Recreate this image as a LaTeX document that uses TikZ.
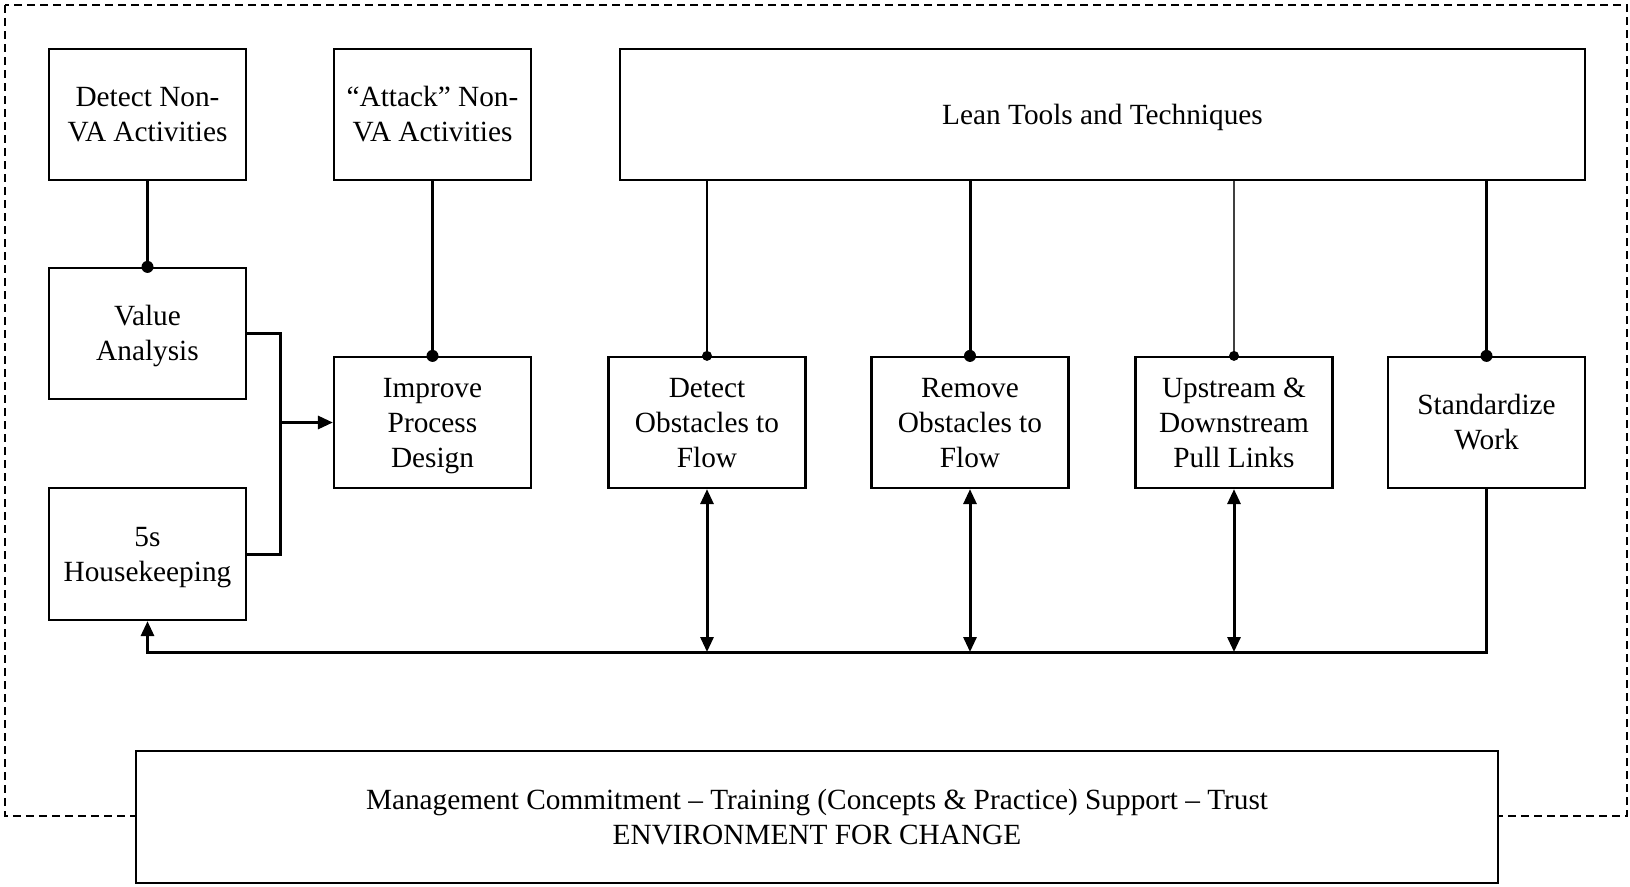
\documentclass[tikz,border=0pt]{standalone}
\usepackage{fontspec}
\setmainfont{Liberation Serif}
\usetikzlibrary{arrows.meta}
\newcommand{\fs}{\rule[-6.5pt]{0pt}{32.5pt}}
\begin{document}
\begin{tikzpicture}[x=1pt,y=-1pt,
  box/.style={draw, line width=2.2pt, fill=white, inner sep=0pt, align=center,
    minimum width=197pt, minimum height=131pt,
    font=\fontsize{29.3}{35}\selectfont,
    execute at end node=\fs},
  thick conn/.style={line width=3pt},
  thin conn/.style={line width=1.1pt},
  flow/.style={line width=3pt},
  tip/.style={-{Triangle[length=15pt,width=13pt]}},
  both/.style={{Triangle[length=15pt,width=13pt]}-{Triangle[length=15pt,width=13pt]}},
  border/.style={line width=2pt, dash pattern=on 8pt off 5pt}
]
\useasboundingbox (0,0) rectangle (1630,886);
\draw[border] (5,5) rectangle (1627,816);

\node[box] (dnv) at (147.5,114.5) {\fs Detect Non-\\VA Activities};
\node[box] (att) at (432.5,114.5) {\fs “Attack” Non-\\VA Activities};
\node[box, minimum width=965pt] (lean) at (1102.5,114.5) {\fs Lean Tools and Techniques};
\node[box] (va) at (147.5,333.5) {\fs Value\\Analysis};
\node[box, minimum height=132pt] (hk) at (147.5,554) {\fs 5s\\Housekeeping};
\node[box] (imp) at (432.5,422.5) {\fs Improve\\Process\\Design};
\node[box] (det) at (707,422.5) {\fs Detect\\Obstacles to\\Flow};
\node[box] (rem) at (970,422.5) {\fs Remove\\Obstacles to\\Flow};
\node[box] (ups) at (1234,422.5) {\fs Upstream \&\\Downstream\\Pull Links};
\node[box] (std) at (1486.5,422.5) {\fs Standardize\\Work};
\node[box, minimum width=1362pt, minimum height=132pt] (env) at (817,817)
  {\fs Management Commitment – Training (Concepts \& Practice) Support – Trust\\ENVIRONMENT FOR CHANGE};

\coordinate (bx) at (280,422.5);
\coordinate (bl) at (147.5,652);
\coordinate (br) at (1486.5,652);

% top-down connectors with dots
\draw[thick conn] (dnv.south) -- (va.north);
\fill (va.north) circle (6pt);
\draw[thick conn] (att.south) -- (imp.north);
\fill (imp.north) circle (6pt);
\draw[thin conn] (lean.south -| det.north) -- (det.north);
\fill (det.north) circle (5pt);
\draw[thick conn] (lean.south -| rem.north) -- (rem.north);
\fill (rem.north) circle (6pt);
\draw[thin conn, black!75] (lean.south -| ups.north) -- (ups.north);
\fill (ups.north) circle (5pt);
\draw[thick conn] (lean.south -| std.north) -- (std.north);
\fill (std.north) circle (6pt);

% bracket into Improve Process Design
\draw[flow] (va.east) -| (bx |- hk.east) -- (hk.east);
\draw[flow, tip] (bx) -- (imp.west);

% feedback line
\draw[flow, tip] (std.south) -- (br) -- (bl) -- (hk.south);
\draw[flow, both] (det.south) -- (det.south |- bl);
\draw[flow, both] (rem.south) -- (rem.south |- bl);
\draw[flow, both] (ups.south) -- (ups.south |- bl);
\end{tikzpicture}
\end{document}
